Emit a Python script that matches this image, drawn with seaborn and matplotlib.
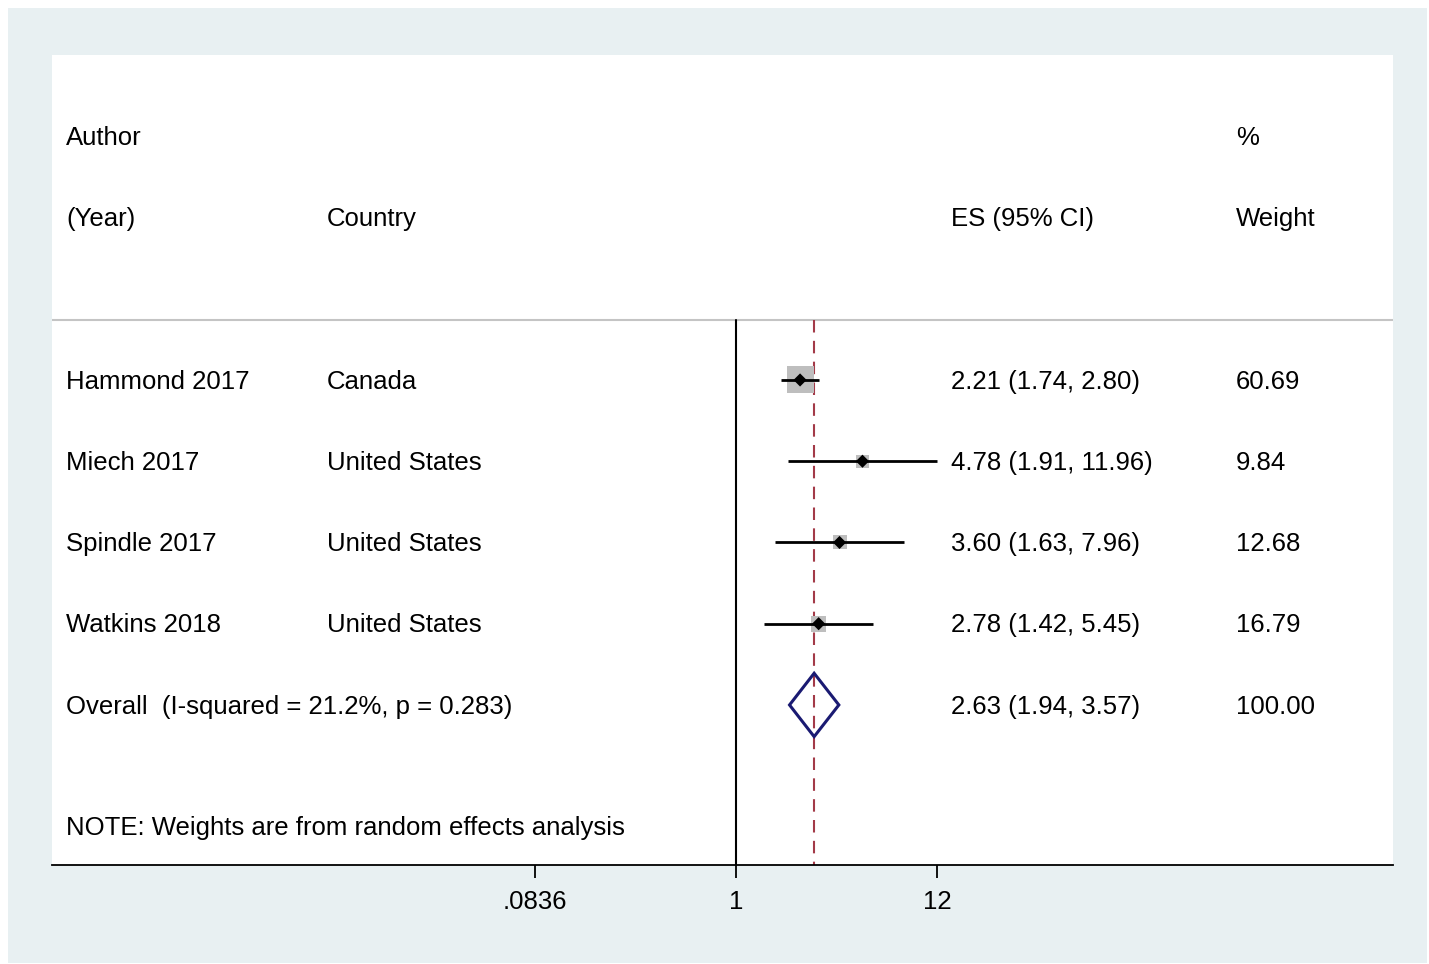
import numpy as np
import pandas as pd
import matplotlib
matplotlib.use("Agg")
import matplotlib.pyplot as plt
import matplotlib.transforms as mtransforms
from matplotlib.patches import Rectangle, Polygon
import seaborn as sns

# ---- data ----
authors = ["Hammond 2017", "Miech 2017", "Spindle 2017", "Watkins 2018"]
countries = ["Canada", "United States", "United States", "United States"]
es = [2.21, 4.78, 3.60, 2.78]
lo = [1.74, 1.91, 1.63, 1.42]
hi = [2.80, 11.96, 7.96, 5.45]
weights = [60.69, 9.84, 12.68, 16.79]
overall_es, overall_lo, overall_hi = 2.63, 1.94, 3.57
overall_label = "Overall  (I-squared = 21.2%, p = 0.283)"
note = "NOTE: Weights are from random effects analysis"
tick_vals = [0.0836, 1, 12]
tick_labels = [".0836", "1", "12"]

sns.set_style("white")
plt.rcParams['font.family'] = ['Liberation Sans', 'DejaVu Sans']
plt.rcParams['text.color'] = 'black'
plt.rcParams['xtick.color'] = 'black'

W, H = 1429, 964
fig = plt.figure(figsize=(W / 100, H / 100), dpi=100, facecolor="white")
# outer light background
fig.patches.append(Rectangle((8 / W, 1 / H), (1427 - 8) / W, (956 - 1 + 0) / H,
                             transform=fig.transFigure, facecolor="#E8F0F2",
                             edgecolor="none", zorder=0))

ax = fig.add_axes([52 / W, (H - 865) / H, (1393 - 52) / W, (865 - 55) / H])
ax.set_facecolor("white")
ax.set_zorder(1)

ax.set_xscale("log")
ax.set_xlim(2.128e-4, 3372)
ax.set_ylim(5.97, -4.0)

rows = np.arange(len(authors))
df = pd.DataFrame({"es": es, "lo": lo, "hi": hi, "w": weights, "row": rows})

# CI lines
for r, l, h in zip(rows, lo, hi):
    ax.plot([l, h], [r, r], color="black", lw=2.0, zorder=3, solid_capstyle="butt")

# weight boxes (side grows with weight)
side_px = 27 * (np.array(weights) / max(weights)) ** 0.42
sizes = (side_px * 0.72) ** 2
ax.scatter(es, rows, s=sizes, marker="s", color="#BEBEBE", edgecolor="none", zorder=2)
# point estimates
sns.scatterplot(data=df, x="es", y="row", marker="D", color="black", s=45,
                edgecolor="none", ax=ax, zorder=4, legend=False)

# null line and overall dashed line
line_top = -0.74
ax.plot([1, 1], [line_top, 5.97], color="black", lw=1.5, zorder=1)
ax.plot([overall_es, overall_es], [line_top, 5.97], color="#A33A48", lw=1.5,
        dashes=(6, 4), zorder=1)

# overall diamond
orow = len(authors)
dh = 0.39
diamond = Polygon([(overall_lo, orow), (overall_es, orow - dh), (overall_hi, orow),
                   (overall_es, orow + dh)], closed=True, facecolor="none",
                  edgecolor="#1A1A72", lw=2.2, zorder=5)
ax.add_patch(diamond)

# header separator
ax.axhline(line_top, color="#C4C4C4", lw=1.5, zorder=0)

# texts
trans = mtransforms.blended_transform_factory(ax.transAxes, ax.transData)
fs = 18.5
dy = 0.02
xa, xc, xe, xw = 0.01044, 0.2051, 0.6704, 0.8829


def put(x, y, s):
    ax.text(x, y + dy, s, transform=trans, fontsize=fs, va="center", color="black")


put(xa, -3, "Author")
put(xw, -3, "%")
put(xa, -2, "(Year)")
put(xc, -2, "Country")
put(xe, -2, "ES (95% CI)")
put(xw, -2, "Weight")
for r, a, c, e, l, h, w in zip(rows, authors, countries, es, lo, hi, weights):
    put(xa, r, a)
    put(xc, r, c)
    put(xe, r, f"{e:.2f} ({l:.2f}, {h:.2f})")
    put(xw, r, f"{w:.2f}")
put(xa, orow, overall_label)
put(xe, orow, f"{overall_es:.2f} ({overall_lo:.2f}, {overall_hi:.2f})")
put(xw, orow, "100.00")
put(xa, 5.5, note)

# axes styling
for s in ["top", "left", "right"]:
    ax.spines[s].set_visible(False)
ax.spines["bottom"].set_color("black")
ax.spines["bottom"].set_linewidth(1.3)
ax.set_yticks([])
ax.set_xticks(tick_vals)
ax.set_xticklabels(tick_labels)
ax.xaxis.set_minor_locator(matplotlib.ticker.NullLocator())
ax.tick_params(axis="x", which="major", direction="out", length=9, width=1.3,
               color="black", labelcolor="black", labelsize=fs, pad=9, bottom=True)
ax.set_xlabel("")
ax.set_ylabel("")

fig.savefig("out.png", dpi=100, facecolor="white")
